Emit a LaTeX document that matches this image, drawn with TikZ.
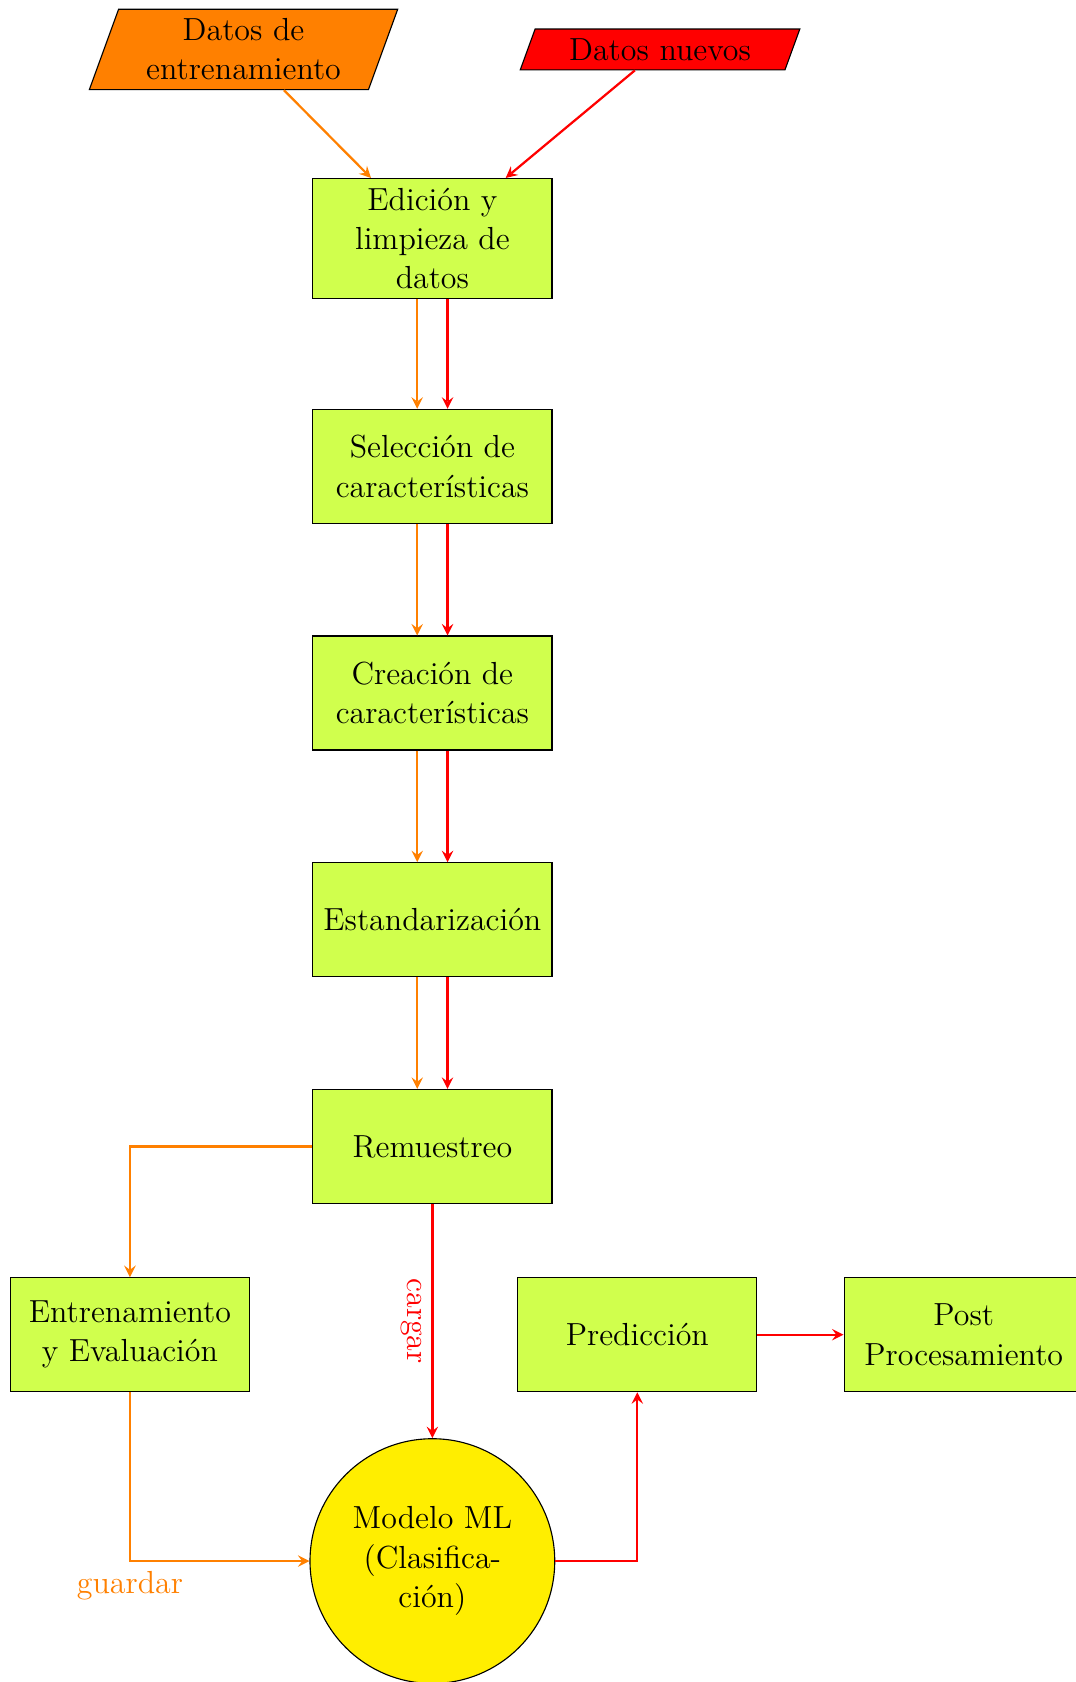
\documentclass[tikz,border=0pt]{standalone}
\usepackage{xcolor}
\usepackage{tikz}
\usetikzlibrary{arrows,positioning,shapes.geometric}
\definecolor{procfill}{HTML}{D0FF4D}
\definecolor{modelfill}{HTML}{FFEE00}

\begin{document}
\begin{tikzpicture}[>=stealth, node distance=1.4cm and 1.08cm, every node/.style={font=\fontsize{11.4}{14}\selectfont}, proc/.style={rectangle,draw=black,fill=procfill,minimum width=3cm,minimum height=1.43cm,align=center}, io/.style={trapezium,trapezium left angle=70,trapezium right angle=110,draw=black,text width=2.9cm,align=center}, trainarrow/.style={->,thick,orange}, newarrow/.style={->,thick,red}]
\useasboundingbox (0,0) rectangle (13.49,-21.1);
\node[io,fill=orange] (datatrain) at (3.055,-0.62) {Datos de\\entrenamiento};
\node[io,fill=red] (datanew) at (8.28,-0.62) {Datos nuevos};
\node[proc] (clean) at (5.424,-2.99) {Edición y\\limpieza de\\datos};
\node[proc,below=1.38cm of clean] (select) {Selección de\\características};
\node[proc,below=of select] (create) {Creación de\\características};
\node[proc,below=of create] (scale) {Estandarización};
\node[proc,below=of scale] (resample) {Remuestreo};
\node[proc] (fit) at (1.63,-16.743) {Entrenamiento\\y Evaluación};
\node[proc] (pred) at (7.995,-16.743) {Predicción};
\node[proc,right=of pred] (post) {Post\\Procesamiento};
\node[circle,draw=black,fill=modelfill,minimum size=3.07cm,inner sep=0pt,align=center] (model) at (5.424,-19.583) {Modelo ML\\(Clasifica-\\ción)};
\draw[trainarrow] (datatrain) -- ([xshift=-0.77cm]clean.north);
\draw[newarrow] (datanew) -- ([xshift=0.92cm]clean.north);
\draw[trainarrow] ([xshift=-0.19cm]clean.south) -- ([xshift=-0.19cm]select.north); \draw[newarrow] ([xshift=0.19cm]clean.south) -- ([xshift=0.19cm]select.north);
\draw[trainarrow] ([xshift=-0.19cm]select.south) -- ([xshift=-0.19cm]create.north); \draw[newarrow] ([xshift=0.19cm]select.south) -- ([xshift=0.19cm]create.north);
\draw[trainarrow] ([xshift=-0.19cm]create.south) -- ([xshift=-0.19cm]scale.north); \draw[newarrow] ([xshift=0.19cm]create.south) -- ([xshift=0.19cm]scale.north);
\draw[trainarrow] ([xshift=-0.19cm]scale.south) -- ([xshift=-0.19cm]resample.north); \draw[newarrow] ([xshift=0.19cm]scale.south) -- ([xshift=0.19cm]resample.north);
\draw[trainarrow] (resample.west) -| (fit.north);
\draw[newarrow] (resample.south) -- node[midway,anchor=north,rotate=270] {cargar} (model.north);
\draw[trainarrow] (fit.south) |- node[below] {guardar} (model.west);
\draw[newarrow] (model.east) -| (pred.south);
\draw[newarrow] (pred) -- (post);
\end{tikzpicture}
\end{document}
